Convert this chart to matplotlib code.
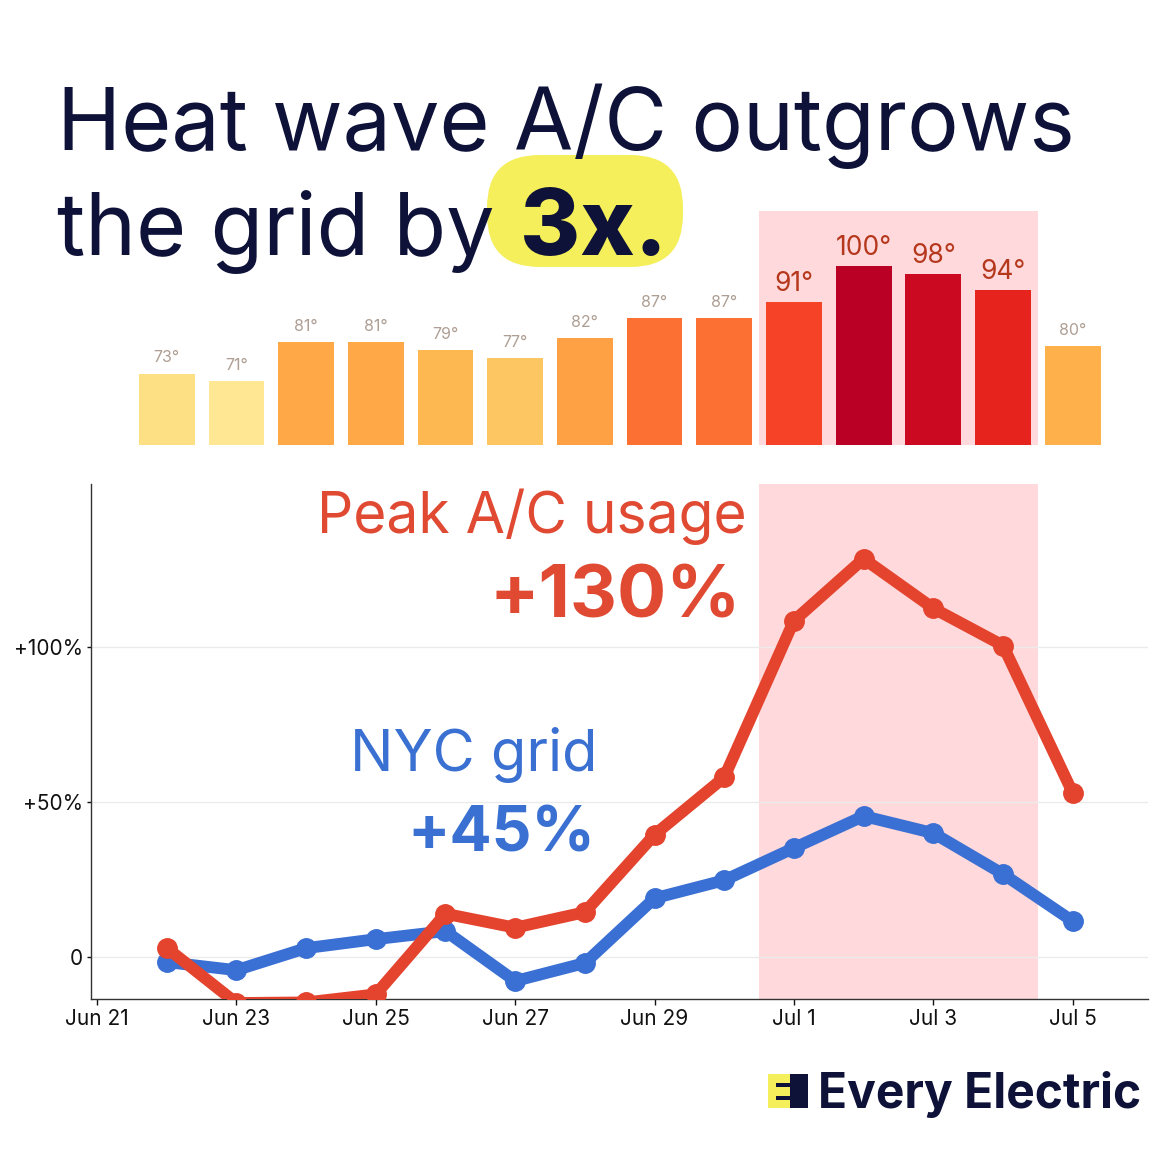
import numpy as np
import matplotlib
matplotlib.use("Agg")
import matplotlib.pyplot as plt
import matplotlib.dates as mdates
from matplotlib.patches import FancyBboxPatch, Rectangle
from matplotlib.colors import Normalize
import datetime as dt

# ---------------- data ----------------
dates = [dt.date(2025, 6, 22) + dt.timedelta(days=i) for i in range(14)]
temps = [73, 71, 81, 81, 79, 77, 82, 87, 87, 91, 100, 98, 94, 80]
ac_usage = [3, -14.8, -14.6, -12, 14, 9.5, 14.5, 39.5, 58, 108.5, 128.5, 112.5, 100.5, 53]
nyc_grid = [-1.6, -4.2, 2.9, 5.8, 8.4, -7.7, -1.9, 19, 24.8, 35.2, 45.5, 40, 26.8, 11.6]
heat_start = dt.datetime(2025, 6, 30, 12)
heat_end = dt.datetime(2025, 7, 4, 12)
ytick_vals = [0, 50, 100]
ytick_labels = ["0", "+50%", "+100%"]
xtick_dates = [dt.date(2025, 6, 21) + dt.timedelta(days=2 * i) for i in range(8)]

W, H = 1168, 1169
DPI = 100
plt.rcParams['font.family'] = ['Inter', 'DejaVu Sans']

NAVY = "#0E1238"
RED = "#E4432D"
BLUE = "#3A6FD4"
SHADE = "#FFD9DB"

fig = plt.figure(figsize=(W / DPI, H / DPI), dpi=DPI)
fig.patch.set_facecolor("white")

def fx(px):
    return px / W

def fy(py):
    return 1 - py / H

# common x-limits
x0 = mdates.date2num(dt.datetime(2025, 6, 21)) - 0.086
x1 = mdates.date2num(dt.datetime(2025, 6, 21)) + 15.08

# ---------------- bar axes ----------------
axb = fig.add_axes([fx(91), fy(445), fx(1148) - fx(91), fy(211) - fy(445)])
axb.set_xlim(x0, x1)
axb.set_ylim(55, 55 + 234 / 3.97)
axb.axis("off")
axb.axvspan(heat_start, heat_end, color=SHADE, zorder=0, lw=0)
cmap = plt.get_cmap("YlOrRd")
norm = Normalize(64.5, 105)
bx = mdates.date2num(dates)
axb.bar(bx, [t - 55 for t in temps], bottom=55, width=0.8,
        color=[cmap(norm(t)) for t in temps], zorder=2)
for xv, t in zip(bx, temps):
    hot = t >= 90
    axb.annotate(f"{t}°", (xv, t), xytext=(0, 8), textcoords="offset points",
                 ha="center", va="baseline",
                 fontsize=19 if hot else 11.5,
                 color="#B5371C" if hot else "#AE9E93", zorder=3)

# ---------------- line axes ----------------
ax = fig.add_axes([fx(91), fy(999), fx(1148) - fx(91), fy(484) - fy(999)])
ax.set_xlim(x0, x1)
ax.set_ylim(-13.5, 152.6)
ax.axvspan(heat_start, heat_end, color=SHADE, zorder=0, lw=0)
for v in ytick_vals:
    ax.axhline(v, color="#EBEBEB", lw=1, zorder=1)
lx = mdates.date2num(dates)
ax.plot(lx, nyc_grid, color=BLUE, lw=8.5, marker="o", ms=14,
        solid_joinstyle="round", solid_capstyle="round", zorder=3)
ax.plot(lx, ac_usage, color=RED, lw=8.5, marker="o", ms=14,
        solid_joinstyle="round", solid_capstyle="round", zorder=4)
for s in ["top", "right"]:
    ax.spines[s].set_visible(False)
for s in ["left", "bottom"]:
    ax.spines[s].set_color("#333333")
    ax.spines[s].set_linewidth(1)
ax.set_yticks(ytick_vals)
ax.set_yticklabels(ytick_labels)
ax.set_xticks(mdates.date2num(xtick_dates))
ax.set_xticklabels([f"{d:%b} {d.day}" for d in xtick_dates])
ax.tick_params(axis="both", labelsize=15, colors="#111111", width=1)
ax.tick_params(axis="y", length=3, pad=3)
ax.tick_params(axis="x", length=4, pad=3)
ax.set_facecolor("none")

# annotations
fig.text(fx(747), fy(533), "Peak A/C usage", ha="right", va="baseline",
         fontsize=41, color="#E04A33")
fig.text(fx(741), fy(618), "+130%", ha="right", va="baseline",
         fontsize=52.5, fontweight="bold", color="#E04A33")
fig.text(fx(597), fy(771), "NYC grid", ha="right", va="baseline",
         fontsize=41.5, color="#3A70D2")
fig.text(fx(595), fy(852), "+45%", ha="right", va="baseline",
         fontsize=45, fontweight="bold", color="#3A70D2")

# ---------------- title ----------------
fig.patches.append(FancyBboxPatch((fx(487) + 0.035, fy(267) + 0.035),
                                  fx(683) - fx(487) - 0.07, fy(155) - fy(267) - 0.07,
                                  boxstyle="round,pad=0.035,rounding_size=0.045",
                                  transform=fig.transFigure, facecolor="#F4EF5B",
                                  edgecolor="none", zorder=0))
fig.text(fx(57), fy(150), "Heat wave A/C outgrows", ha="left", va="baseline",
         fontsize=62, color=NAVY)
fig.text(fx(57), fy(255), "the grid by", ha="left", va="baseline",
         fontsize=62, color=NAVY)
fig.text(fx(520), fy(255), "3x.", ha="left", va="baseline",
         fontsize=66, fontweight="heavy", color=NAVY, zorder=2)

# ---------------- logo ----------------
fig.patches.append(Rectangle((fx(768), fy(1108)), fx(790) - fx(768), fy(1074) - fy(1108),
                             transform=fig.transFigure, facecolor="#F4EF5B", edgecolor="none"))
fig.patches.append(Rectangle((fx(790), fy(1108)), fx(808) - fx(790), fy(1074) - fy(1108),
                             transform=fig.transFigure, facecolor=NAVY, edgecolor="none"))
for yy in (1083, 1096):
    fig.patches.append(Rectangle((fx(776), fy(yy + 4)), fx(790) - fx(776), fy(yy) - fy(yy + 4),
                                 transform=fig.transFigure, facecolor=NAVY, edgecolor="none"))
fig.text(fx(818), fy(1108), "Every Electric", ha="left", va="baseline",
         fontsize=34.5, fontweight="bold", color=NAVY)

fig.savefig("out.png", dpi=DPI)
